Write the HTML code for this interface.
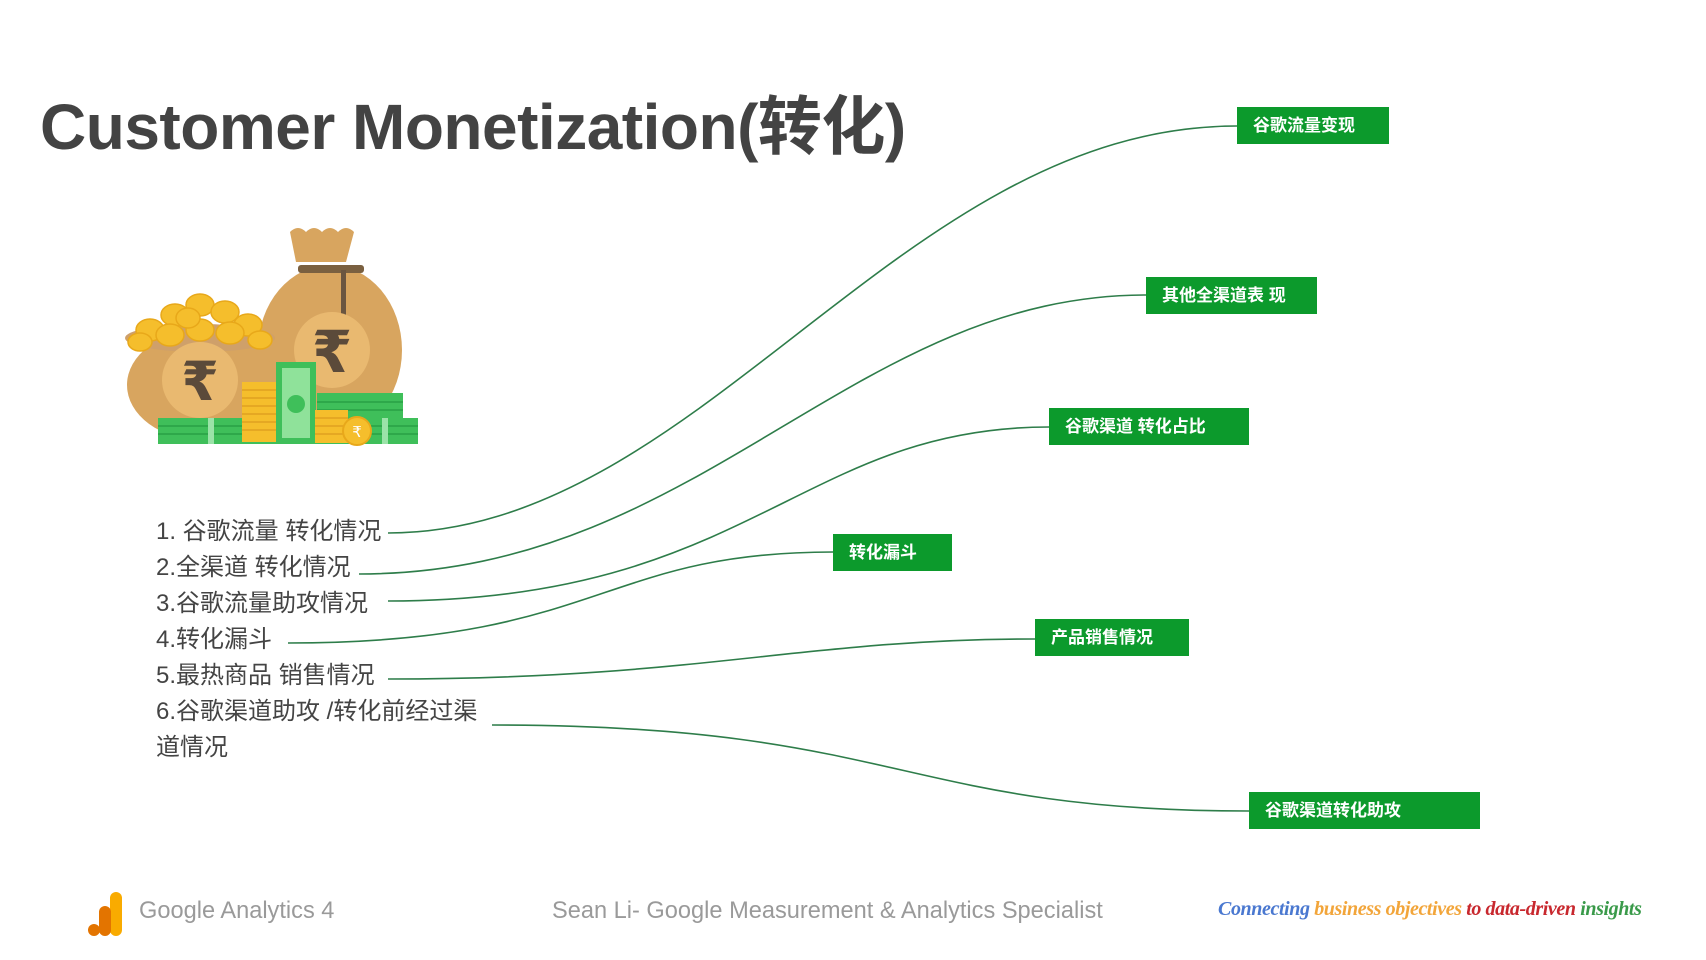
<!DOCTYPE html>
<html><head><meta charset="utf-8"><style>
body{margin:0;width:1706px;height:960px;background:#fff;overflow:hidden;position:relative;font-family:"Liberation Sans","Noto Sans CJK SC",sans-serif}
.t{position:absolute;left:40px;top:76px;font-size:64px;font-weight:bold;color:#434343;white-space:nowrap;letter-spacing:-0.5px}
.box{position:absolute;background:#0c9a2c;color:#fff;font-weight:bold;font-size:17px;line-height:37px;padding-left:16px;box-sizing:border-box;white-space:nowrap}
.li{position:absolute;left:156px;font-size:24px;color:#444;white-space:nowrap;line-height:36px}
.f{position:absolute;top:898px;font-size:23.6px;color:#9a9a9a;white-space:nowrap}
</style></head><body>
<div class="t">Customer Monetization(转化)</div>

<svg style="position:absolute;left:0;top:0" width="1706" height="960">
<g fill="none" stroke="#2e7d4a" stroke-width="1.6">
<path d="M388,533 C700,533 900,126 1237,126"/>
<path d="M359,574 C700,574 850,295 1146,295"/>
<path d="M388,601 C750,601 800,427 1049,427"/>
<path d="M288,643 C600,643 600,552 833,552"/>
<path d="M388,679 C700,679 800,639 1035,639"/>
<path d="M492,725 C900,725 900,811 1249,811"/>
</g>
<g>
<path d="M290,232 q8,-8 16,0 q8,-8 16,0 q8,-8 16,0 q8,-8 16,0 l-8,30 h-50z" fill="#d8a55f"/>
<ellipse cx="330" cy="350" rx="72" ry="85" fill="#d8a55f"/>
<rect x="298" y="265" width="66" height="8" rx="3" fill="#7a6040"/>
<rect x="341" y="270" width="5" height="52" fill="#6a5540"/>
<circle cx="332" cy="350" r="38" fill="#e9b970"/>
<text x="332" y="372" font-size="58" font-weight="bold" text-anchor="middle" fill="#5b4a3a" font-family="DejaVu Sans,sans-serif">₹</text>
<ellipse cx="202" cy="385" rx="75" ry="55" fill="#d8a55f"/>
<ellipse cx="200" cy="338" rx="75" ry="14" fill="#cfa06a"/>
<circle cx="200" cy="380" r="38" fill="#e9b970"/>
<text x="200" y="400" font-size="54" font-weight="bold" text-anchor="middle" fill="#5b4a3a" font-family="DejaVu Sans,sans-serif">₹</text>
<g fill="#f5be2c" stroke="#e8a81a" stroke-width="1.5">
<ellipse cx="150" cy="330" rx="14" ry="11"/><ellipse cx="175" cy="315" rx="14" ry="11"/><ellipse cx="200" cy="305" rx="14" ry="11"/><ellipse cx="225" cy="312" rx="14" ry="11"/><ellipse cx="248" cy="325" rx="14" ry="11"/><ellipse cx="170" cy="335" rx="14" ry="11"/><ellipse cx="200" cy="330" rx="14" ry="11"/><ellipse cx="230" cy="333" rx="14" ry="11"/><ellipse cx="188" cy="318" rx="12" ry="10"/><ellipse cx="140" cy="342" rx="12" ry="9"/><ellipse cx="260" cy="340" rx="12" ry="9"/>
</g>
<rect x="317" y="393" width="86" height="26" fill="#3fbf5a"/>
<rect x="158" y="418" width="260" height="26" fill="#3fbf5a"/>
<g stroke="#2ea84a" stroke-width="2"><line x1="158" y1="426" x2="418" y2="426"/><line x1="158" y1="434" x2="418" y2="434"/><line x1="317" y1="402" x2="403" y2="402"/><line x1="317" y1="410" x2="403" y2="410"/></g>
<rect x="208" y="418" width="6" height="26" fill="#9be3a8"/><rect x="382" y="418" width="6" height="26" fill="#9be3a8"/>
<rect x="242" y="382" width="35" height="60" fill="#f5be2c"/>
<g stroke="#e0a020" stroke-width="1.5"><line x1="242" y1="390" x2="277" y2="390"/><line x1="242" y1="398" x2="277" y2="398"/><line x1="242" y1="406" x2="277" y2="406"/><line x1="242" y1="414" x2="277" y2="414"/><line x1="242" y1="422" x2="277" y2="422"/><line x1="242" y1="430" x2="277" y2="430"/></g>
<rect x="276" y="362" width="40" height="82" fill="#3fbf5a"/>
<rect x="282" y="368" width="28" height="70" fill="#8fe29a"/>
<circle cx="296" cy="404" r="9" fill="#3fbf5a"/>
<rect x="315" y="410" width="33" height="33" fill="#f5be2c"/>
<g stroke="#e0a020" stroke-width="1.5"><line x1="315" y1="418" x2="348" y2="418"/><line x1="315" y1="426" x2="348" y2="426"/><line x1="315" y1="434" x2="348" y2="434"/></g>
<circle cx="357" cy="431" r="14" fill="#f5be2c" stroke="#e8a81a" stroke-width="2"/>
<text x="357" y="437" font-size="15" text-anchor="middle" fill="#fff" font-family="DejaVu Sans,sans-serif">₹</text>
</g>
<rect x="110" y="892" width="12" height="44" rx="6" fill="#f9ab00"/>
<rect x="99" y="906" width="12" height="30" rx="6" fill="#e37400"/>
<circle cx="94" cy="930" r="6" fill="#e37400"/>
</svg>

<div class="box" style="left:1237px;top:107px;width:152px">谷歌流量变现</div>
<div class="box" style="left:1146px;top:277px;width:171px">其他全渠道表 现</div>
<div class="box" style="left:1049px;top:408px;width:200px">谷歌渠道 转化占比</div>
<div class="box" style="left:833px;top:534px;width:119px">转化漏斗</div>
<div class="box" style="left:1035px;top:619px;width:154px">产品销售情况</div>
<div class="box" style="left:1249px;top:792px;width:231px">谷歌渠道转化助攻</div>

<div class="li" style="top:514px">1. 谷歌流量 转化情况</div>
<div class="li" style="top:550px">2.全渠道 转化情况</div>
<div class="li" style="top:586px">3.谷歌流量助攻情况</div>
<div class="li" style="top:622px">4.转化漏斗</div>
<div class="li" style="top:658px">5.最热商品 销售情况</div>
<div class="li" style="top:694px">6.谷歌渠道助攻 /转化前经过渠</div>
<div class="li" style="top:730px">道情况</div>

<div class="f" style="left:139px">Google Analytics 4</div>
<div class="f" style="left:552px">Sean Li- Google Measurement &amp; Analytics Specialist</div>
<div style="position:absolute;left:1218px;top:898px;font-family:'Liberation Serif',serif;font-style:italic;font-weight:bold;font-size:20px;white-space:nowrap;letter-spacing:-0.4px"><span style="color:#4a78d0">Connecting</span> <span style="color:#f2a53a">business objectives</span> <span style="color:#c8282e">to data-driven</span> <span style="color:#3a9a4a">insights</span></div>
</body></html>
